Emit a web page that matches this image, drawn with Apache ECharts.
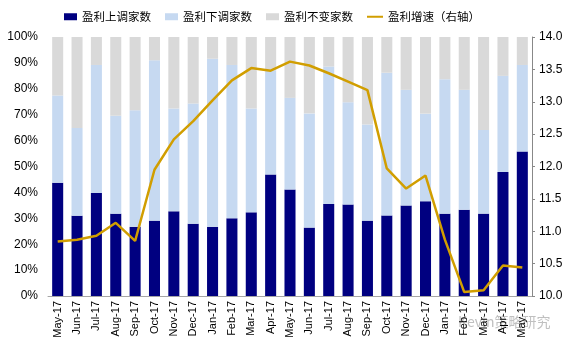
<!DOCTYPE html>
<html>
<head>
<meta charset="utf-8">
<script src="https://cdn.jsdelivr.net/npm/echarts@6/dist/echarts.min.js"></script>
<style>
html,body{margin:0;padding:0;background:#fff;}
#c{width:574px;height:350px;}
</style>
</head>
<body>
<div id="c"></div>
<script>
var categories = ["May-17","Jun-17","Jul-17","Aug-17","Sep-17","Oct-17","Nov-17","Dec-17","Jan-17","Feb-17","Mar-17","Apr-17","May-17","Jun-17","Jul-17","Aug-17","Sep-17","Oct-17","Nov-17","Dec-17","Jan-17","Feb-17","Mar-17","Apr-17","May-17"];
var upShare = [43.7,31.0,39.8,31.8,26.7,29.1,32.7,27.9,26.7,30.0,32.3,46.9,41.1,26.4,35.5,35.3,29.1,31.1,34.9,36.6,31.8,33.3,31.8,47.9,55.8];
var downShare = [33.7,33.9,49.4,37.8,45.0,61.9,39.7,46.4,64.9,59.2,40.1,40.3,35.4,44.1,53.1,39.5,37.1,55.1,44.7,33.8,51.9,46.3,32.3,37.1,33.4];
var flatShare = [22.6,35.1,10.8,30.4,28.3,9.0,27.6,25.7,8.4,10.8,27.6,12.8,23.5,29.5,11.4,25.2,33.8,13.8,20.4,29.6,16.3,20.4,35.9,15.0,10.8];
var growth = [10.84,10.87,10.93,11.13,10.85,11.95,12.42,12.70,13.02,13.33,13.52,13.48,13.62,13.56,13.44,13.31,13.18,11.97,11.66,11.86,10.87,10.06,10.09,10.47,10.44];
var seriesNames = ["盈利上调家数","盈利下调家数","盈利不变家数","盈利增速（右轴）"];

var chart = echarts.init(document.getElementById('c'), null, {renderer:'canvas'});
var barW = '57%';
var legendText = {fontFamily:'"Noto Sans CJK SC", sans-serif', fontSize:11.5, color:'#000'};
chart.setOption({
  animation:false,
  backgroundColor:'#fff',
  textStyle:{fontFamily:'Liberation Sans, Arial, sans-serif'},
  legend:[
    {top:6, left:59, itemGap:14, itemWidth:13, itemHeight:7, textStyle:legendText,
     data:[{name:seriesNames[0], icon:'rect'},{name:seriesNames[1], icon:'rect'},{name:seriesNames[2], icon:'rect'}]},
    {top:6, left:362, itemWidth:16, itemHeight:2, textStyle:legendText,
     data:[{name:seriesNames[3], icon:'rect'}]}
  ],
  grid:{left:48, right:42, top:37, bottom:54},
  xAxis:{
    type:'category', data:categories,
    axisLine:{show:true, lineStyle:{color:'#A6A6A6', width:1}},
    axisTick:{show:false},
    axisLabel:{rotate:90, interval:0, fontSize:11, color:'#000', margin:5}
  },
  yAxis:[
    {type:'value', min:0, max:100, interval:10,
     axisLine:{show:false}, axisTick:{show:false}, splitLine:{show:false},
     axisLabel:{formatter:'{value}%', fontSize:12, color:'#000', margin:10}},
    {type:'value', min:10, max:14, interval:0.5,
     axisLine:{show:true, lineStyle:{color:'#888', width:1}},
     axisTick:{show:true, inside:false, length:3, lineStyle:{color:'#888'}},
     splitLine:{show:false},
     axisLabel:{formatter:function(v){return v.toFixed(1);}, fontSize:12, color:'#000', margin:7}}
  ],
  series:[
    {name:seriesNames[0], type:'bar', stack:'s', barWidth:barW, data:upShare, itemStyle:{color:'#000080'}},
    {name:seriesNames[1], type:'bar', stack:'s', barWidth:barW, data:downShare, itemStyle:{color:'#C6D9F1'}},
    {name:seriesNames[2], type:'bar', stack:'s', barWidth:barW, data:flatShare, itemStyle:{color:'#D9D9D9'}},
    {name:seriesNames[3], type:'line', yAxisIndex:1, data:growth, symbol:'none', smooth:false,
     lineStyle:{color:'#D19E00', width:2.5}, itemStyle:{color:'#D19E00'}}
  ],
  graphic:[
    {type:'text', left:458, top:315, silent:true,
     style:{text:'Kevin策略研究', fill:'rgba(140,140,140,0.55)', font:'14px "Noto Sans CJK SC", sans-serif'}}
  ]
});
</script>
</body>
</html>
